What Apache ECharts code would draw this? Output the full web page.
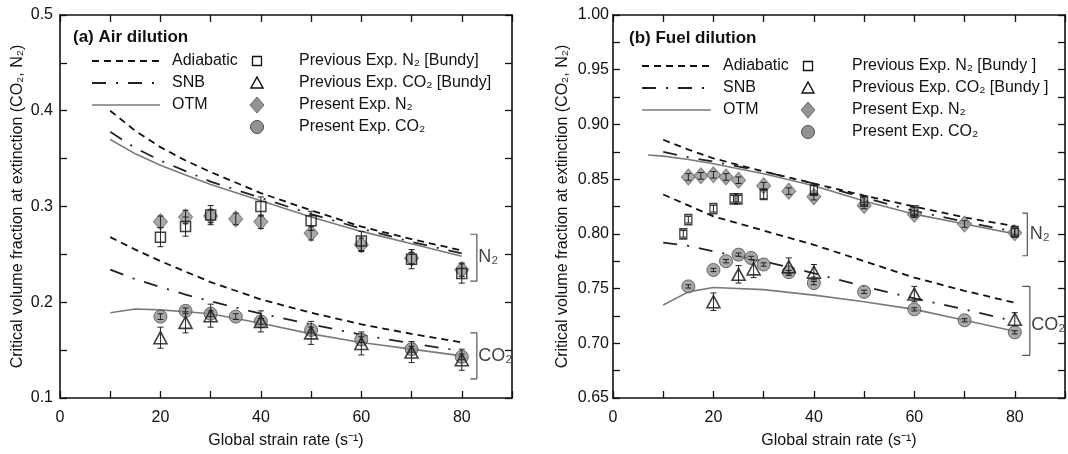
<!DOCTYPE html>
<html>
<head>
<meta charset="utf-8">
<title>Critical volume fraction at extinction</title>
<script src="https://cdn.jsdelivr.net/npm/echarts@6/dist/echarts.min.js"></script>
<style>
html, body { margin: 0; padding: 0; background: #fff; }
#chart { width: 1068px; height: 454px; }
</style>
</head>
<body>
<div id="chart"></div>
<script>
// ---- (a) air dilution ----
const airCurveX = [10, 15, 20, 25, 30, 40, 50, 60, 70, 80];
const airAdiaN2 = [0.400, 0.379, 0.362, 0.348, 0.336, 0.314, 0.296, 0.279, 0.266, 0.254];
const airSnbN2  = [0.378, 0.361, 0.348, 0.337, 0.326, 0.309, 0.292, 0.277, 0.263, 0.251];
const airOtmN2  = [0.370, 0.355, 0.343, 0.333, 0.323, 0.306, 0.289, 0.274, 0.261, 0.248];
const airAdiaCO2 = [0.268, 0.255, 0.243, 0.232, 0.221, 0.203, 0.189, 0.177, 0.167, 0.158];
const airSnbCO2  = [0.234, 0.224, 0.216, 0.208, 0.201, 0.188, 0.177, 0.166, 0.157, 0.149];
const airOtmCO2  = [0.189, 0.193, 0.192, 0.190, 0.188, 0.178, 0.167, 0.158, 0.151, 0.144];

const airPresN2X = [20, 25, 30, 35, 40, 50, 60, 70, 80];
const airPresN2 = [0.284, 0.289, 0.290, 0.287, 0.284, 0.272, 0.260, 0.246, 0.234];
const airPresN2Err = [0.006, 0.007, 0.007, 0.006, 0.007, 0.007, 0.007, 0.006, 0.007];
const airPrevN2X = [20, 25, 30, 40, 50, 60, 70, 80];
const airPrevN2 = [0.268, 0.279, 0.291, 0.300, 0.285, 0.264, 0.245, 0.230];
const airPrevN2Err = [0.010, 0.010, 0.010, 0.010, 0.010, 0.010, 0.010, 0.010];
const airPresCO2X = [20, 25, 30, 35, 40, 50, 60, 70, 80];
const airPresCO2 = [0.185, 0.191, 0.188, 0.185, 0.180, 0.171, 0.161, 0.151, 0.143];
const airPresCO2Err = [0.003, 0.003, 0.003, 0.003, 0.003, 0.003, 0.003, 0.003, 0.003];
const airPrevCO2X = [20, 25, 30, 40, 50, 60, 70, 80];
const airPrevCO2 = [0.163, 0.179, 0.186, 0.180, 0.168, 0.157, 0.148, 0.140];
const airPrevCO2Err = [0.011, 0.011, 0.012, 0.011, 0.012, 0.012, 0.011, 0.011];

// ---- (b) fuel dilution ----
const fuelCurveX = [10, 15, 20, 30, 40, 50, 60, 70, 80];
const fuelAdiaN2 = [0.886, 0.877, 0.869, 0.857, 0.846, 0.835, 0.825, 0.815, 0.807];
const fuelSnbN2  = [0.875, 0.870, 0.866, 0.857, 0.846, 0.833, 0.821, 0.811, 0.802];
const fuelOtmN2X = [7, 10, 15, 20, 30, 40, 50, 60, 70, 80];
const fuelOtmN2  = [0.872, 0.871, 0.868, 0.864, 0.855, 0.844, 0.830, 0.818, 0.809, 0.800];
const fuelAdiaCO2 = [0.836, 0.826, 0.816, 0.803, 0.790, 0.775, 0.760, 0.748, 0.737];
const fuelSnbCO2  = [0.792, 0.789, 0.784, 0.775, 0.764, 0.752, 0.741, 0.731, 0.720];
const fuelOtmCO2  = [0.735, 0.747, 0.751, 0.749, 0.744, 0.738, 0.731, 0.721, 0.711];

const fuelPresN2X = [15, 17.5, 20, 22.5, 25, 30, 35, 40, 50, 60, 70, 80];
const fuelPresN2 = [0.852, 0.853, 0.854, 0.852, 0.849, 0.844, 0.839, 0.834, 0.826, 0.818, 0.809, 0.801];
const fuelPresN2Err = [0.003, 0.003, 0.003, 0.003, 0.003, 0.003, 0.003, 0.003, 0.003, 0.003, 0.003, 0.004];
const fuelPrevN2X = [14, 15, 20, 24, 25, 30, 40, 50, 60, 80];
const fuelPrevN2 = [0.800, 0.813, 0.823, 0.832, 0.832, 0.836, 0.840, 0.830, 0.821, 0.802];
const fuelPrevN2Err = [0.003, 0.003, 0.003, 0.003, 0.003, 0.004, 0.004, 0.003, 0.003, 0.003];
const fuelPresCO2X = [15, 20, 22.5, 25, 27.5, 30, 35, 40, 50, 60, 70, 80];
const fuelPresCO2 = [0.752, 0.767, 0.775, 0.781, 0.778, 0.772, 0.765, 0.755, 0.747, 0.731, 0.721, 0.710];
const fuelPresCO2Err = [0.0015, 0.0015, 0.0015, 0.0015, 0.0015, 0.0015, 0.0015, 0.0015, 0.0015, 0.0015, 0.0015, 0.0015];
const fuelPrevCO2X = [20, 25, 28, 35, 40, 60, 80];
const fuelPrevCO2 = [0.738, 0.763, 0.768, 0.770, 0.765, 0.745, 0.722];
const fuelPrevCO2Err = [0.008, 0.008, 0.008, 0.008, 0.007, 0.007, 0.006];

// brackets grouping the N2 / CO2 families (data space)
const airN2Bracket = [[81.7, 0.271], [83, 0.271], [83, 0.222], [81.7, 0.222]];
const airCO2Bracket = [[81.7, 0.168], [83, 0.168], [83, 0.120], [81.7, 0.120]];
const fuelN2Bracket = [[81.5, 0.819], [82.5, 0.819], [82.5, 0.780], [81.5, 0.780]];
const fuelCO2Bracket = [[81.5, 0.752], [83, 0.752], [83, 0.689], [81.5, 0.689]];
const airBracketLabels = [[83.3, 0.247, 'N₂'], [83.3, 0.144, 'CO₂']];
const fuelBracketLabels = [[83.0, 0.800, 'N₂'], [83.3, 0.717, 'CO₂']];

const FONT = '"Liberation Sans", Arial, sans-serif';
const INK = '#111';

const zip = (xs, ys) => xs.map((x, i) => [x, ys[i]]);
const zip3 = (xs, ys, es) => xs.map((x, i) => [x, ys[i], es[i]]);

const adiaStyle = { color: INK, width: 1.8, type: [7, 5] };
const snbStyle = { color: '#222', width: 1.8, type: [14, 10, 2, 10] };
const otmStyle = { color: '#7a7a7a', width: 1.6, type: 'solid' };

function curve(g, xs, ys, style) {
    return {
        type: 'line', xAxisIndex: g * 2, yAxisIndex: g * 2,
        data: zip(xs, ys), symbol: 'none', silent: true,
        lineStyle: style, z: 2
    };
}

function errRender(params, api) {
    const x = api.value(0), y = api.value(1), e = api.value(2);
    const a = api.coord([x, y + e]);
    const b = api.coord([x, y - e]);
    const w = 3;
    const st = { stroke: '#222', lineWidth: 1 };
    return {
        type: 'group',
        children: [
            { type: 'line', shape: { x1: a[0], y1: a[1], x2: b[0], y2: b[1] }, style: st },
            { type: 'line', shape: { x1: a[0] - w, y1: a[1], x2: a[0] + w, y2: a[1] }, style: st },
            { type: 'line', shape: { x1: b[0] - w, y1: b[1], x2: b[0] + w, y2: b[1] }, style: st }
        ]
    };
}

function points(g, xs, ys, es, kind) {
    const styles = {
        square: { symbol: 'rect', size: g === 0 ? 10 : [7, 10], item: { color: 'rgba(255,255,255,0)', borderColor: INK, borderWidth: 1.5 }, z: 4 },
        triangle: { symbol: 'triangle', size: [13, 12], item: { color: 'rgba(255,255,255,0)', borderColor: INK, borderWidth: 1.6 }, z: 5 },
        diamond: { symbol: 'diamond', size: [14, 16], item: { color: '#939393', borderColor: '#6a6a6a', borderWidth: 1 }, z: 3 },
        circle: { symbol: 'circle', size: 13, item: { color: '#939393', borderColor: '#4a4a4a', borderWidth: 1 }, z: 3 }
    }[kind];
    return [
        {
            type: 'scatter', xAxisIndex: g * 2, yAxisIndex: g * 2, silent: true,
            data: zip(xs, ys), symbol: styles.symbol, symbolSize: styles.size,
            itemStyle: styles.item, z: styles.z
        },
        {
            type: 'custom', xAxisIndex: g * 2, yAxisIndex: g * 2, silent: true,
            renderItem: errRender, encode: { x: 0, y: 1 },
            data: zip3(xs, ys, es), z: 6
        }
    ];
}

function bracket(g, pts) {
    return {
        type: 'line', xAxisIndex: g * 2, yAxisIndex: g * 2, data: pts,
        symbol: 'none', silent: true, lineStyle: { color: '#555', width: 1.2 }, z: 2
    };
}

function bracketLabels(g, items) {
    return {
        type: 'scatter', xAxisIndex: g * 2, yAxisIndex: g * 2, silent: true,
        symbolSize: 0, data: items.map(d => ({ value: [d[0], d[1]], name: d[2] })),
        label: {
            show: true, position: 'right', distance: 0, formatter: '{b}',
            color: INK, fontSize: 18, fontFamily: FONT
        }
    };
}

function tickAxisCommon(extra) {
    return Object.assign({
        axisLine: { show: true, onZero: false, lineStyle: { color: INK, width: 1.6 } },
        axisTick: { show: true, inside: true, length: 7, lineStyle: { color: INK, width: 1.3 } },
        splitLine: { show: false }
    }, extra);
}

function xAxes(g) {
    return [
        tickAxisCommon({
            gridIndex: g, type: 'value', min: 0, max: 90, interval: 10, position: 'bottom',
            name: 'Global strain rate (s⁻¹)', nameLocation: 'middle', nameGap: 35,
            nameTextStyle: { color: INK, fontSize: 16, fontFamily: FONT },
            axisLabel: {
                color: INK, fontSize: 16, fontFamily: FONT, margin: 12,
                formatter: v => (Math.round(v) % 20 === 0 ? String(Math.round(v)) : '')
            }
        }),
        tickAxisCommon({
            gridIndex: g, type: 'value', min: 0, max: 90, interval: 10, position: 'top',
            axisLabel: { show: false }
        })
    ];
}

function yAxes(g, min, max, step, labelEvery, digits, gap, margin) {
    const fmt = v => {
        const k = Math.round(v * 1000);
        return k % Math.round(labelEvery * 1000) === 0 ? v.toFixed(digits) : '';
    };
    return [
        tickAxisCommon({
            gridIndex: g, type: 'value', min: min, max: max, interval: step, position: 'left',
            name: 'Critical volume fraction at extinction (CO₂, N₂)', nameLocation: 'middle', nameGap: gap,
            nameTextStyle: { color: INK, fontSize: 16, fontFamily: FONT },
            axisLabel: { color: INK, fontSize: 16, fontFamily: FONT, margin: margin, formatter: fmt }
        }),
        tickAxisCommon({
            gridIndex: g, type: 'value', min: min, max: max, interval: step, position: 'right',
            axisLabel: { show: false }
        })
    ];
}

// legend drawn as graphics, one block per panel
function legendBlock(x0, y0, dy, lineW, textX, markX, mTextX, prevLabels) {
    const els = [];
    const txt = (x, y, s) => ({
        type: 'text', x: x, y: y,
        style: { text: s, fill: INK, font: '16px ' + FONT, verticalAlign: 'middle' }
    });
    const lines = [['Adiabatic', [7, 5], INK, 1.8], ['SNB', [14, 10, 2, 10], '#222', 1.8], ['OTM', null, '#7a7a7a', 1.6]];
    lines.forEach((l, i) => {
        const y = y0 + i * dy;
        els.push({
            type: 'line', shape: { x1: x0, y1: y, x2: x0 + lineW, y2: y },
            style: { stroke: l[2], lineWidth: l[3], lineDash: l[1] || undefined }
        });
        els.push(txt(textX, y, l[0]));
    });
    const y1 = y0, y2 = y0 + dy, y3 = y0 + 2 * dy, y4 = y0 + 3 * dy;
    els.push({ type: 'rect', shape: { x: markX - 4.5, y: y1 - 4.5, width: 9, height: 9 }, style: { fill: 'none', stroke: INK, lineWidth: 1.3 } });
    els.push({ type: 'polygon', shape: { points: [[markX, y2 - 6], [markX + 6, y2 + 5], [markX - 6, y2 + 5]] }, style: { fill: 'none', stroke: INK, lineWidth: 1.5 } });
    els.push({ type: 'polygon', shape: { points: [[markX, y3 - 8], [markX + 7, y3], [markX, y3 + 8], [markX - 7, y3]] }, style: { fill: '#939393', stroke: '#6a6a6a', lineWidth: 1 } });
    els.push({ type: 'circle', shape: { cx: markX, cy: y4, r: 6.5 }, style: { fill: '#939393', stroke: '#4a4a4a', lineWidth: 1 } });
    els.push(txt(mTextX, y1, prevLabels[0]));
    els.push(txt(mTextX, y2, prevLabels[1]));
    els.push(txt(mTextX, y3, 'Present Exp. N₂'));
    els.push(txt(mTextX, y4, 'Present Exp. CO₂'));
    return els;
}

const chart = echarts.init(document.getElementById('chart'), null, { renderer: 'canvas' });

const series = [
    curve(0, airCurveX, airAdiaN2, adiaStyle),
    curve(0, airCurveX, airSnbN2, snbStyle),
    curve(0, airCurveX, airOtmN2, otmStyle),
    curve(0, airCurveX, airAdiaCO2, adiaStyle),
    curve(0, airCurveX, airSnbCO2, snbStyle),
    curve(0, airCurveX, airOtmCO2, otmStyle),
    ...points(0, airPresN2X, airPresN2, airPresN2Err, 'diamond'),
    ...points(0, airPresCO2X, airPresCO2, airPresCO2Err, 'circle'),
    ...points(0, airPrevN2X, airPrevN2, airPrevN2Err, 'square'),
    ...points(0, airPrevCO2X, airPrevCO2, airPrevCO2Err, 'triangle'),
    bracket(0, airN2Bracket),
    bracket(0, airCO2Bracket),
    bracketLabels(0, airBracketLabels),

    curve(1, fuelCurveX, fuelAdiaN2, adiaStyle),
    curve(1, fuelCurveX, fuelSnbN2, snbStyle),
    curve(1, fuelOtmN2X, fuelOtmN2, otmStyle),
    curve(1, fuelCurveX, fuelAdiaCO2, adiaStyle),
    curve(1, fuelCurveX, fuelSnbCO2, snbStyle),
    curve(1, fuelCurveX, fuelOtmCO2, otmStyle),
    ...points(1, fuelPresN2X, fuelPresN2, fuelPresN2Err, 'diamond'),
    ...points(1, fuelPresCO2X, fuelPresCO2, fuelPresCO2Err, 'circle'),
    ...points(1, fuelPrevN2X, fuelPrevN2, fuelPrevN2Err, 'square'),
    ...points(1, fuelPrevCO2X, fuelPrevCO2, fuelPrevCO2Err, 'triangle'),
    bracket(1, fuelN2Bracket),
    bracket(1, fuelCO2Bracket),
    bracketLabels(1, fuelBracketLabels)
];

chart.setOption({
    animation: false,
    backgroundColor: '#fff',
    grid: [
        { left: 60, top: 15, width: 452, height: 388 },
        { left: 613, top: 15, width: 453, height: 389 }
    ],
    xAxis: [...xAxes(0), ...xAxes(1)],
    yAxis: [
        ...yAxes(0, 0.1, 0.5, 0.05, 0.1, 1, 34, 7),
        ...yAxes(1, 0.65, 1.0, 0.025, 0.05, 2, 42, 4)
    ],
    graphic: [
        { type: 'text', x: 73, y: 37, style: { text: '(a) Air dilution', fill: INK, font: 'bold 17px ' + FONT, verticalAlign: 'middle' } },
        { type: 'text', x: 629, y: 38, style: { text: '(b) Fuel dilution', fill: INK, font: 'bold 17px ' + FONT, verticalAlign: 'middle' } },
        ...legendBlock(92, 61, 22, 68, 172, 257, 299, ['Previous Exp. N₂ [Bundy]', 'Previous Exp. CO₂ [Bundy]']),
        ...legendBlock(642, 66, 22, 69, 723, 808, 852, ['Previous Exp. N₂ [Bundy ]', 'Previous Exp. CO₂ [Bundy ]'])
    ],
    series: series
});
</script>
</body>
</html>
